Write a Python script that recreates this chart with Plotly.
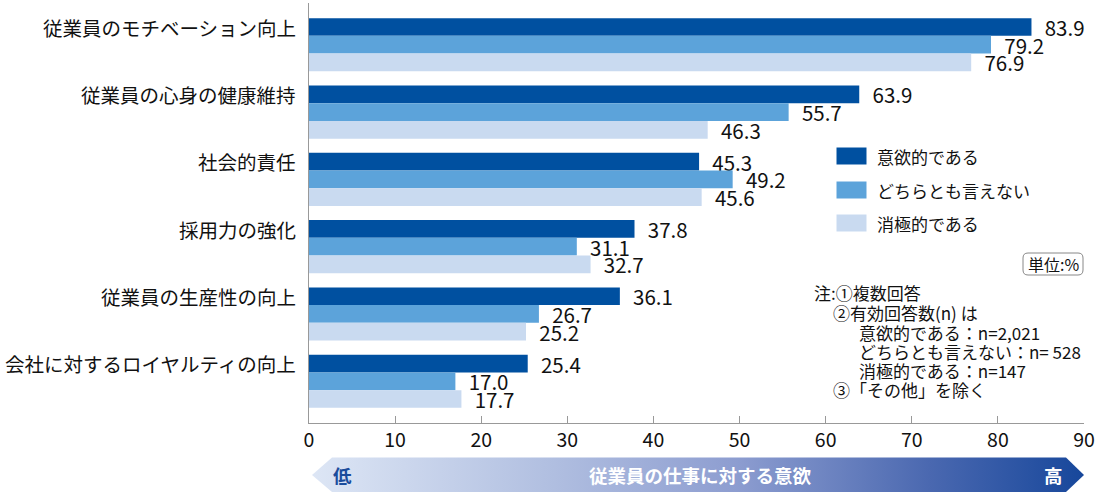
import plotly.graph_objects as go

categories = ["従業員のモチベーション向上", "従業員の心身の健康維持", "社会的責任",
              "採用力の強化", "従業員の生産性の向上", "会社に対するロイヤルティの向上"]
series_names = ["意欲的である", "どちらとも言えない", "消極的である"]
positive = [83.9, 63.9, 45.3, 37.8, 36.1, 25.4]
neutral = [79.2, 55.7, 49.2, 31.1, 26.7, 17.0]
negative = [76.9, 46.3, 45.6, 32.7, 25.2, 17.7]
x_ticks = [0, 10, 20, 30, 40, 50, 60, 70, 80, 90]
notes = ["注:①複数回答", "②有効回答数(n) は", "意欲的である：n=2,021",
         "どちらとも言えない：n= 528", "消極的である：n=147", "③「その他」を除く"]
axis_title = "従業員の仕事に対する意欲"

FONT = "Noto Sans CJK JP"
colors = ["#0050A0", "#5CA3DA", "#C9DAF0"]
W, H = 1100, 493
ML, MR, MT = 309, 16, 3
AX_BOTTOM = 423

fig = go.Figure()
for name, vals, col in zip(series_names, [positive, neutral, negative], colors):
    fig.add_trace(go.Bar(
        y=categories, x=vals, name=name, orientation="h",
        marker=dict(color=col, line=dict(width=0)),
        texttemplate="\u2002%{x:.1f}", textposition="outside",
        textfont=dict(family=FONT, size=20.5, color="#111"),
        cliponaxis=False, constraintext="none", hoverinfo="skip",
        xaxis="x", yaxis="y"))

# gradient arrow band (pixel-coordinate overlay subplot)
bx = [312, 332, 1066, 1084, 1066, 332, 312]
by = [475, 457.5, 457.5, 475, 492, 492, 475]
fig.add_trace(go.Scatter(
    x=bx, y=by, mode="lines", line=dict(width=0), fill="toself",
    fillgradient=dict(type="horizontal",
                      colorscale=[[0, "#DDE6F5"], [0.3, "#B2C0E1"], [0.55, "#8D9DD0"],
                                  [0.8, "#4A68B0"], [1, "#17479B"]]),
    hoverinfo="skip", showlegend=False, xaxis="x2", yaxis="y2"))

plot_h = H - MT
y_dom_bottom = (H - AX_BOTTOM) / plot_h

shapes = []
annotations = []
# legend
leg_y = [156, 190, 223]
for name, col, yy in zip(series_names, colors, leg_y):
    shapes.append(dict(type="rect", xref="x2", yref="y2", x0=836.5, x1=866.5,
                       y0=yy - 8.5, y1=yy + 8.5, fillcolor=col, line=dict(width=0)))
    annotations.append(dict(xref="x2", yref="y2", x=875, y=yy, text=name, showarrow=False,
                            xanchor="left", yanchor="middle",
                            font=dict(family=FONT, size=17, color="#111")))
# unit box
x0, x1, y0, y1, r = 1023, 1083, 253, 275, 5
path = (f"M{x0+r},{y0} L{x1-r},{y0} Q{x1},{y0} {x1},{y0+r} L{x1},{y1-r} Q{x1},{y1} {x1-r},{y1} "
        f"L{x0+r},{y1} Q{x0},{y1} {x0},{y1-r} L{x0},{y0+r} Q{x0},{y0} {x0+r},{y0} Z")
shapes.append(dict(type="path", xref="x2", yref="y2", path=path,
                   line=dict(color="#888", width=1), fillcolor="white"))
annotations.append(dict(xref="x2", yref="y2", x=1053, y=264, text="単位:%", showarrow=False,
                        font=dict(family=FONT, size=16, color="#111")))
# notes
note_x = [812, 831, 857, 857, 857, 831]
note_y = [292, 312, 332, 351, 370, 389]
for t, xx, yy in zip(notes, note_x, note_y):
    annotations.append(dict(xref="x2", yref="y2", x=xx, y=yy, text=t, showarrow=False,
                            xanchor="left", yanchor="middle",
                            font=dict(family=FONT, size=17, color="#111")))
# band texts
annotations.append(dict(xref="x2", yref="y2", x=342, y=475, text="<b>低</b>", showarrow=False,
                        font=dict(family=FONT, size=18.5, color="#1B4C9C")))
annotations.append(dict(xref="x2", yref="y2", x=700, y=475, text=f"<b>{axis_title}</b>",
                        showarrow=False, font=dict(family=FONT, size=18.5, color="white")))
annotations.append(dict(xref="x2", yref="y2", x=1053, y=475, text="<b>高</b>", showarrow=False,
                        font=dict(family=FONT, size=18.5, color="white")))
# category labels aligned with the top bar of each group
for c in categories:
    annotations.append(dict(xref="paper", yref="y", x=0, y=c, text=c, showarrow=False,
                            xanchor="right", yanchor="middle", xshift=-11, yshift=17.6,
                            font=dict(family=FONT, size=19.5, color="#111")))

fig.update_layout(
    width=W, height=H,
    margin=dict(l=ML, r=MR, t=MT, b=0),
    paper_bgcolor="white", plot_bgcolor="rgba(0,0,0,0)",
    barmode="group", bargap=0.21, bargroupgap=0,
    showlegend=False,
    font=dict(family=FONT, color="#111"),
    xaxis=dict(range=[0, 90], tickvals=x_ticks, ticks="inside", ticklen=7,
               tickcolor="#999", showline=True, linecolor="#999", linewidth=1,
               showgrid=False, zeroline=False, anchor="y", domain=[0, 1],
               tickfont=dict(family=FONT, size=19.5, color="#111"), automargin=False),
    yaxis=dict(type="category", categoryarray=categories, range=[5.62, -0.62],
               showline=True, linecolor="#999", linewidth=1, showticklabels=False,
               ticks="", showgrid=False, zeroline=False, domain=[y_dom_bottom, 1],
               anchor="x", automargin=False),
    xaxis2=dict(range=[ML, W - MR], domain=[0, 1], anchor="y2", visible=False,
                fixedrange=True),
    yaxis2=dict(range=[H, MT], domain=[0, 1], anchor="x2", visible=False,
                fixedrange=True),
    shapes=shapes, annotations=annotations,
)

fig.write_html("out.html", config={"displayModeBar": False},
               post_script="document.body.style.margin='0';document.body.style.overflow='hidden';")
